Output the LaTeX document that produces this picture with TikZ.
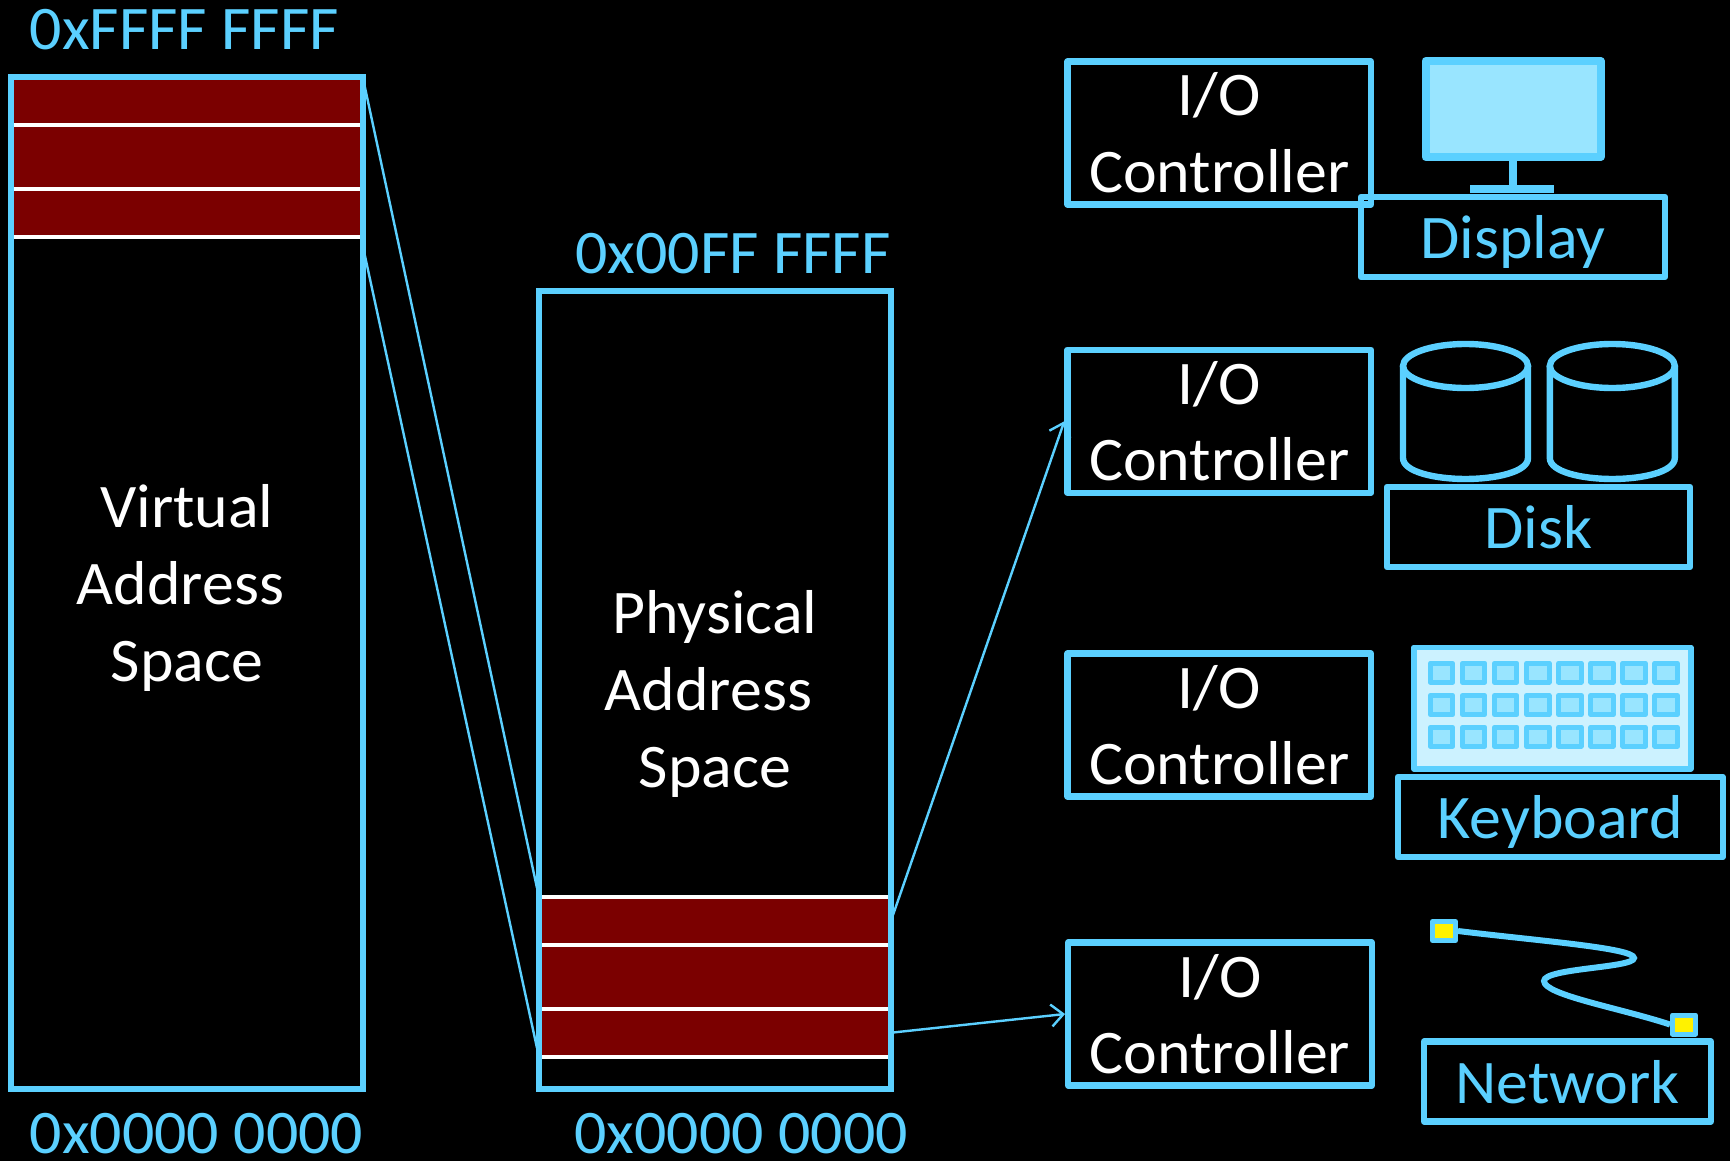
\documentclass[tikz,border=0pt]{standalone}
\usepackage{fontspec}
\setmainfont[FakeStretch=1.03]{Carlito}
\usetikzlibrary{arrows.meta}
\definecolor{skyline}{HTML}{5BD0FF}
\definecolor{skyfill}{HTML}{99E5FF}
\definecolor{skypale}{HTML}{CCF2FF}
\definecolor{iored}{HTML}{7B0000}
\tikzset{
  label/.style={font=\fontsize{31}{38.3}\selectfont, align=center, text=white, inner sep=0pt},
  addr/.style={label, text=skyline, anchor=base},
  membox/.style={draw=skyline, line width=3.2pt, inner sep=0pt, minimum width=176pt},
  iobox/.style={label, draw=skyline, line width=3.2pt, line join=round, minimum width=151.75pt, minimum height=71.5pt},
  devbox/.style={label, text=skyline, text depth=0pt, draw=skyline, line width=3.2pt, line join=round, minimum height=40pt},
  link/.style={draw=skyline, line width=1.2pt},
  keycap/.style={draw=skyline, fill=skyfill, line width=2.5pt, line join=round, inner sep=0pt, minimum width=11.25pt, minimum height=9.5pt},
  plug/.style={draw=skyline, fill=yellow, line width=2.5pt, line join=round, inner sep=0pt, minimum width=11.5pt, minimum height=9.5pt},
}
\begin{document}
\begin{tikzpicture}[x=0.5pt,y=-0.5pt]
  \fill[black] (0,0) rectangle (1730,1161);
  \useasboundingbox (0,0) rectangle (1730,1161);
  % memory stripes
  \fill[iored] (14,80) rectangle (360,237);
  \fill[iored] (542,897) rectangle (888,1057);
  \foreach \y in {125,189,237} \draw[white, line width=2pt] (14,\y) -- (360,\y);
  \foreach \y in {897,945,1009,1057} \draw[white, line width=2pt] (542,\y) -- (888,\y);
  % address spaces
  \node[membox, minimum height=506pt] (vas) at (187,583) {};
  \node[membox, minimum height=399pt] (pas) at (715,690) {};
  \node[label] (vastext) at (187,588) {Virtual\\Address\kern6.5pt\\Space};
  \node[label] (pastext) at (715,694) {Physical\\Address\kern6.5pt\\Space};
  \node[addr] (vastop) at (184.5,50) {0xFFFF FFFF};
  \node[addr] (vasbot) at (196.5,1153) {0x0000 0000};
  \node[addr] (pastop) at (733,273.5) {0x00FF FFFF};
  \node[addr] (pasbot) at (741,1153) {0x0000 0000};
  % I/O controllers
  \node[iobox] (io1) at (1219.25,133) {I/O\\Controller};
  \node[iobox] (io2) at (1219.25,421.25) {I/O\\Controller};
  \node[iobox] (io3) at (1219.25,725) {I/O\\Controller};
  \node[iobox] (io4) at (1220,1014) {I/O\\Controller};
  % mapping lines
  \coordinate (vasa) at (364,83);
  \coordinate (vasb) at (364,251.5);
  \coordinate (pasa) at (537,888);
  \coordinate (pasb) at (537,1048);
  \coordinate (pasc) at (893,915);
  \coordinate (pasd) at (893,1032.5);
  \draw[link] (vasa) to (pasa);
  \draw[link] (vasb) to (pasb);
  \draw[link, -{Straight Barb[length=6pt,width=11pt]}] (pasc) to (io2.west);
  \draw[link, -{Straight Barb[length=6pt,width=11pt]}] (pasd) to (io4.west);
  % display
  \node[draw=skyline, fill=skyfill, line width=4pt, line join=round, inner sep=0pt, minimum width=87.5pt, minimum height=48pt] (screen) at (1513,109) {};
  \fill[skyline] (1509,161) rectangle (1517,185);
  \fill[skyline] (1470,185) rectangle (1553.5,193);
  \node[devbox, minimum width=152pt] (display) at (1513,237) {Display};
  % disks
  \foreach \x in {1465.5,1612.3} {
    \draw[skyline, line width=3.2pt] (\x,366) ellipse (62.5 and 22);
    \draw[skyline, line width=3.2pt] (\x-62.5,366) -- (\x-62.5,458) .. controls (\x-62.5,472) and (\x-30,479) .. (\x,479)
      .. controls (\x+30,479) and (\x+62.5,472) .. (\x+62.5,458) -- (\x+62.5,366);
  }
  \node[devbox, minimum width=151.5pt] (disk) at (1538.5,527) {Disk};
  % keyboard
  \node[draw=skyline, fill=skypale, line width=2.75pt, line join=round, inner sep=0pt, minimum width=138.5pt, minimum height=60.75pt] (keys) at (1552.3,708) {};
  \foreach \r/\y in {1/672.7,2/705,3/736.7}
    \foreach \c in {0,...,7}
      \node[keycap] (key\r\c) at (1441.5+32.1*\c,\y) {};
  \node[devbox, minimum width=162.4pt] (keyboard) at (1560.3,817) {Keyboard};
  % network
  \node[plug] (plugl) at (1444,931) {};
  \node[plug] (plugr) at (1684,1024.5) {};
  \draw[skyline, line width=3pt] (plugl.east) .. controls (1540,941) and (1634,948) .. (1634,958)
    .. controls (1634,968) and (1544,968) .. (1544,981) .. controls (1544,995) and (1620,1008) .. (plugr.west);
  \node[devbox, minimum width=143.5pt] (network) at (1567.5,1081.5) {Network};
\end{tikzpicture}
\end{document}
